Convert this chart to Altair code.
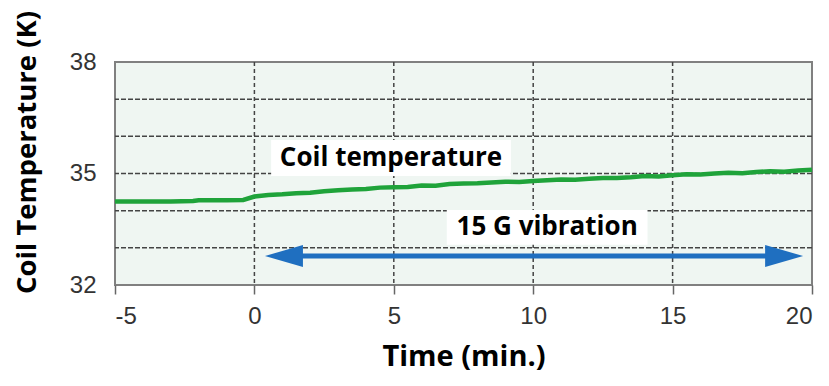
import altair as alt
import pandas as pd

# Coil temperature readings (time in min, temperature in K)
time_min = [-5, -4, -3, -2.2, -2, -1, -0.4, 0, 0.5, 1, 1.5, 2, 2.5, 3, 3.5, 4, 4.5, 5,
            5.5, 6, 6.5, 7, 7.5, 8, 8.5, 9, 9.5, 10, 10.5, 11, 11.5, 12, 12.5, 13,
            13.5, 14, 14.5, 15, 15.5, 16, 16.5, 17, 17.5, 18, 18.5, 19, 19.5, 20]
temp_k = [34.25, 34.25, 34.25, 34.26, 34.28, 34.28, 34.29, 34.38, 34.42, 34.44, 34.47,
          34.48, 34.52, 34.55, 34.57, 34.58, 34.62, 34.63, 34.64, 34.68, 34.67, 34.72,
          34.73, 34.74, 34.76, 34.78, 34.77, 34.80, 34.82, 34.84, 34.83, 34.86, 34.88,
          34.88, 34.90, 34.93, 34.92, 34.95, 34.98, 34.97, 35.00, 35.02, 35.01, 35.04,
          35.06, 35.05, 35.08, 35.10]

x_ticks = [-5, 0, 5, 10, 15, 20]
y_ticks = [32, 35, 38]
h_grid = [33, 34, 35, 36, 37]
v_grid = [0, 5, 10, 15]

arrow_left_center, arrow_right_center, arrow_level = 1.06, 19.0, 32.78

df = pd.DataFrame({"t": time_min, "T": temp_k})

X = alt.X("t:Q", scale=alt.Scale(domain=[-5, 20], nice=False, zero=False),
          axis=alt.Axis(values=x_ticks, title="Time (min.)", grid=False,
                        labelExpr="'' + datum.value",
                        labelFont="Liberation Sans", labelFontSize=24, labelColor="#333333",
                        labelPadding=10, tickSize=9, tickColor="#666666", tickWidth=1.5,
                        domain=False,
                        titleFont="Open Sans", titleFontSize=29, titleFontWeight="bold",
                        titleColor="#000000", titlePadding=14))
Y = alt.Y("T:Q", scale=alt.Scale(domain=[32, 38], nice=False, zero=False),
          axis=alt.Axis(values=y_ticks, title="Coil Temperature (K)", grid=False,
                        labelExpr="'' + datum.value",
                        labelFont="Liberation Sans", labelFontSize=24, labelColor="#333333",
                        labelPadding=19, ticks=False, domain=False,
                        titleFont="Open Sans", titleFontSize=27.5, titleFontWeight="bold",
                        titleColor="#000000", titleX=-88, titleY=90,
                        titleAlign="center", titleBaseline="middle"))

hg = alt.Chart(pd.DataFrame({"g": h_grid})).mark_rule(
    color="#444444", strokeDash=[5, 2], strokeWidth=1.5).encode(y=alt.Y("g:Q", scale=alt.Scale(domain=[32, 38])))
vg = alt.Chart(pd.DataFrame({"g": v_grid})).mark_rule(
    color="#444444", strokeDash=[4, 3], strokeWidth=1.5).encode(x=alt.X("g:Q", scale=alt.Scale(domain=[-5, 20])))

line = alt.Chart(df).mark_line(color="#1fa33a", strokeWidth=4.5).encode(x=X, y=Y)

LEFT_HEAD = "M -1 0 L 1 -0.58 L 1 0.58 Z"
RIGHT_HEAD = "M 1 0 L -1 -0.58 L -1 0.58 Z"

arrow_df = pd.DataFrame({"t": [arrow_left_center, arrow_right_center], "T": [arrow_level, arrow_level]})
arrow_line = alt.Chart(arrow_df).mark_line(color="#1f6fc0", strokeWidth=5).encode(x="t:Q", y="T:Q")
heads_df = pd.DataFrame({"t": [arrow_left_center, arrow_right_center], "T": [arrow_level, arrow_level],
                         "s": [LEFT_HEAD, RIGHT_HEAD]})
heads = alt.Chart(heads_df).mark_point(filled=True, color="#1f6fc0", opacity=1, size=1444).encode(
    x="t:Q", y="T:Q", shape=alt.Shape("s:N", scale=None))

boxes_df = pd.DataFrame({"x1": [0.6, 6.9], "x2": [9.2, 14.1], "y1": [34.93, 33.08], "y2": [35.9, 34.02]})
boxes = alt.Chart(boxes_df).mark_rect(color="white", opacity=1).encode(
    x="x1:Q", x2="x2:Q", y="y1:Q", y2="y2:Q")

labels_df = pd.DataFrame({"t": [4.9, 10.5], "T": [35.42, 33.55],
                          "txt": ["Coil temperature", "15 G vibration"]})
labels = alt.Chart(labels_df).mark_text(font="Open Sans", fontWeight="bold", fontSize=26,
                                         color="#000000", align="center", baseline="middle").encode(
    x="t:Q", y="T:Q", text="txt:N")

chart = alt.layer(hg, vg, boxes, line, arrow_line, heads, labels).properties(
    width=697, height=223,
    autosize=alt.AutoSizeParams(type="none"),
    padding={"left": 107, "top": 54, "right": 9, "bottom": 93},
    background="white",
).configure_view(fill="#eff6f2", stroke="#808080", strokeWidth=2)

chart.save("out.html", embed_options={"renderer": "svg", "actions": False})
